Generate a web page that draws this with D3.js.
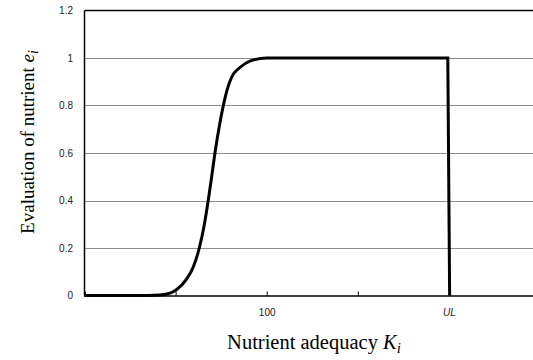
<!DOCTYPE html>
<html>
<head>
<meta charset="utf-8">
<script src="https://cdn.jsdelivr.net/npm/d3@7"></script>
<style>
  body { margin: 0; background: #fff; }
  svg { display: block; }
</style>
</head>
<body>
<div id="chart"></div>
<script>
// values
const kValues = [0, 20, 35, 41.4, 47, 50.6, 56.1, 59.7, 63, 65.8, 67.9, 69.8, 71.6, 73.7, 76.2, 78.2, 80.8, 85.3, 90.8, 100, 150, 199.4, 200.4];
const eValues = [0, 0, 0, 0.002, 0.01, 0.025, 0.07, 0.12, 0.2, 0.3, 0.4, 0.5, 0.6, 0.7, 0.8, 0.864, 0.92, 0.96, 0.987, 1, 1, 1, 0];
const yTicks = [0, 0.2, 0.4, 0.6, 0.8, 1, 1.2];
const xTicks = [0, 50, 100, 150, 200, 250];
const xTickLabels = { 100: "100", 200: "UL" };

const width = 533, height = 360;
const margin = { top: 10.5, left: 84.5, bottom: 295.5 };

const svg = d3.select("#chart").append("svg")
  .attr("width", width)
  .attr("height", height);

const x = d3.scaleLinear().domain([0, 250]).range([margin.left, 540]);
const y = d3.scaleLinear().domain([0, 1.2]).range([margin.bottom, margin.top]);

// gridlines
svg.append("g")
  .selectAll("line")
  .data(yTicks.filter(d => d > 0 && d < 1.2))
  .enter()
  .append("line")
  .attr("x1", margin.left)
  .attr("x2", width)
  .attr("y1", d => Math.round(y(d)) + 0.5)
  .attr("y2", d => Math.round(y(d)) + 0.5)
  .attr("stroke", "#8c8c8c")
  .attr("stroke-width", 1);

// top border
svg.append("line")
  .attr("x1", margin.left).attr("x2", width)
  .attr("y1", y(1.2)).attr("y2", y(1.2))
  .attr("stroke", "#000").attr("stroke-width", 1.3);

// y axis labels
svg.append("g")
  .selectAll("text")
  .data(yTicks)
  .enter()
  .append("text")
  .attr("x", 73)
  .attr("y", d => y(d))
  .attr("dy", "0.35em")
  .attr("text-anchor", "end")
  .attr("font-family", "Liberation Sans, Arial, sans-serif")
  .attr("font-size", "10px")
  .attr("fill", "#222")
  .text(d => d3.format("~g")(d));

// x axis with inward ticks
const xAxis = d3.axisBottom(x)
  .tickValues(xTicks)
  .tickSize(-4)
  .tickFormat(d => xTickLabels[d] || "");

const gx = svg.append("g")
  .attr("transform", `translate(0,${margin.bottom})`)
  .call(xAxis);
gx.select(".domain").attr("stroke", "#000").attr("stroke-width", 1.5);
gx.selectAll(".tick line").attr("stroke", "#000");
gx.selectAll(".tick text")
  .attr("y", 13)
  .attr("font-family", "Liberation Sans, Arial, sans-serif")
  .attr("font-size", "10px")
  .attr("fill", "#222")
  .attr("font-style", d => d === 200 ? "italic" : "normal");

// left axis line
svg.append("line")
  .attr("x1", margin.left).attr("x2", margin.left)
  .attr("y1", y(1.2)).attr("y2", y(0))
  .attr("stroke", "#000").attr("stroke-width", 1.5);

// the curve
const data = kValues.map((k, i) => ({ k: k, e: eValues[i] }));
const line = d3.line()
  .x(d => x(d.k))
  .y(d => y(d.e))
  .curve(d3.curveMonotoneX);

svg.append("path")
  .datum(data)
  .attr("d", line)
  .attr("fill", "none")
  .attr("stroke", "#000")
  .attr("stroke-width", 3)
  .attr("stroke-linejoin", "miter");

// axis titles
const yTitle = svg.append("text")
  .attr("transform", "translate(34,142) rotate(-90)")
  .attr("text-anchor", "middle")
  .attr("font-family", "Liberation Serif, Times New Roman, serif")
  .attr("font-size", "19px")
  .attr("fill", "#000");
yTitle.append("tspan").text("Evaluation of nutrient ");
yTitle.append("tspan").attr("font-style", "italic").text("e");
yTitle.append("tspan").attr("font-style", "italic").attr("font-size", "14px").attr("dy", 4).text("i");

const xTitle = svg.append("text")
  .attr("x", 314)
  .attr("y", 349)
  .attr("text-anchor", "middle")
  .attr("font-family", "Liberation Serif, Times New Roman, serif")
  .attr("font-size", "20.5px")
  .attr("fill", "#000");
xTitle.append("tspan").text("Nutrient adequacy ");
xTitle.append("tspan").attr("font-style", "italic").text("K");
xTitle.append("tspan").attr("font-style", "italic").attr("font-size", "15px").attr("dy", 4).text("i");
</script>
</body>
</html>
